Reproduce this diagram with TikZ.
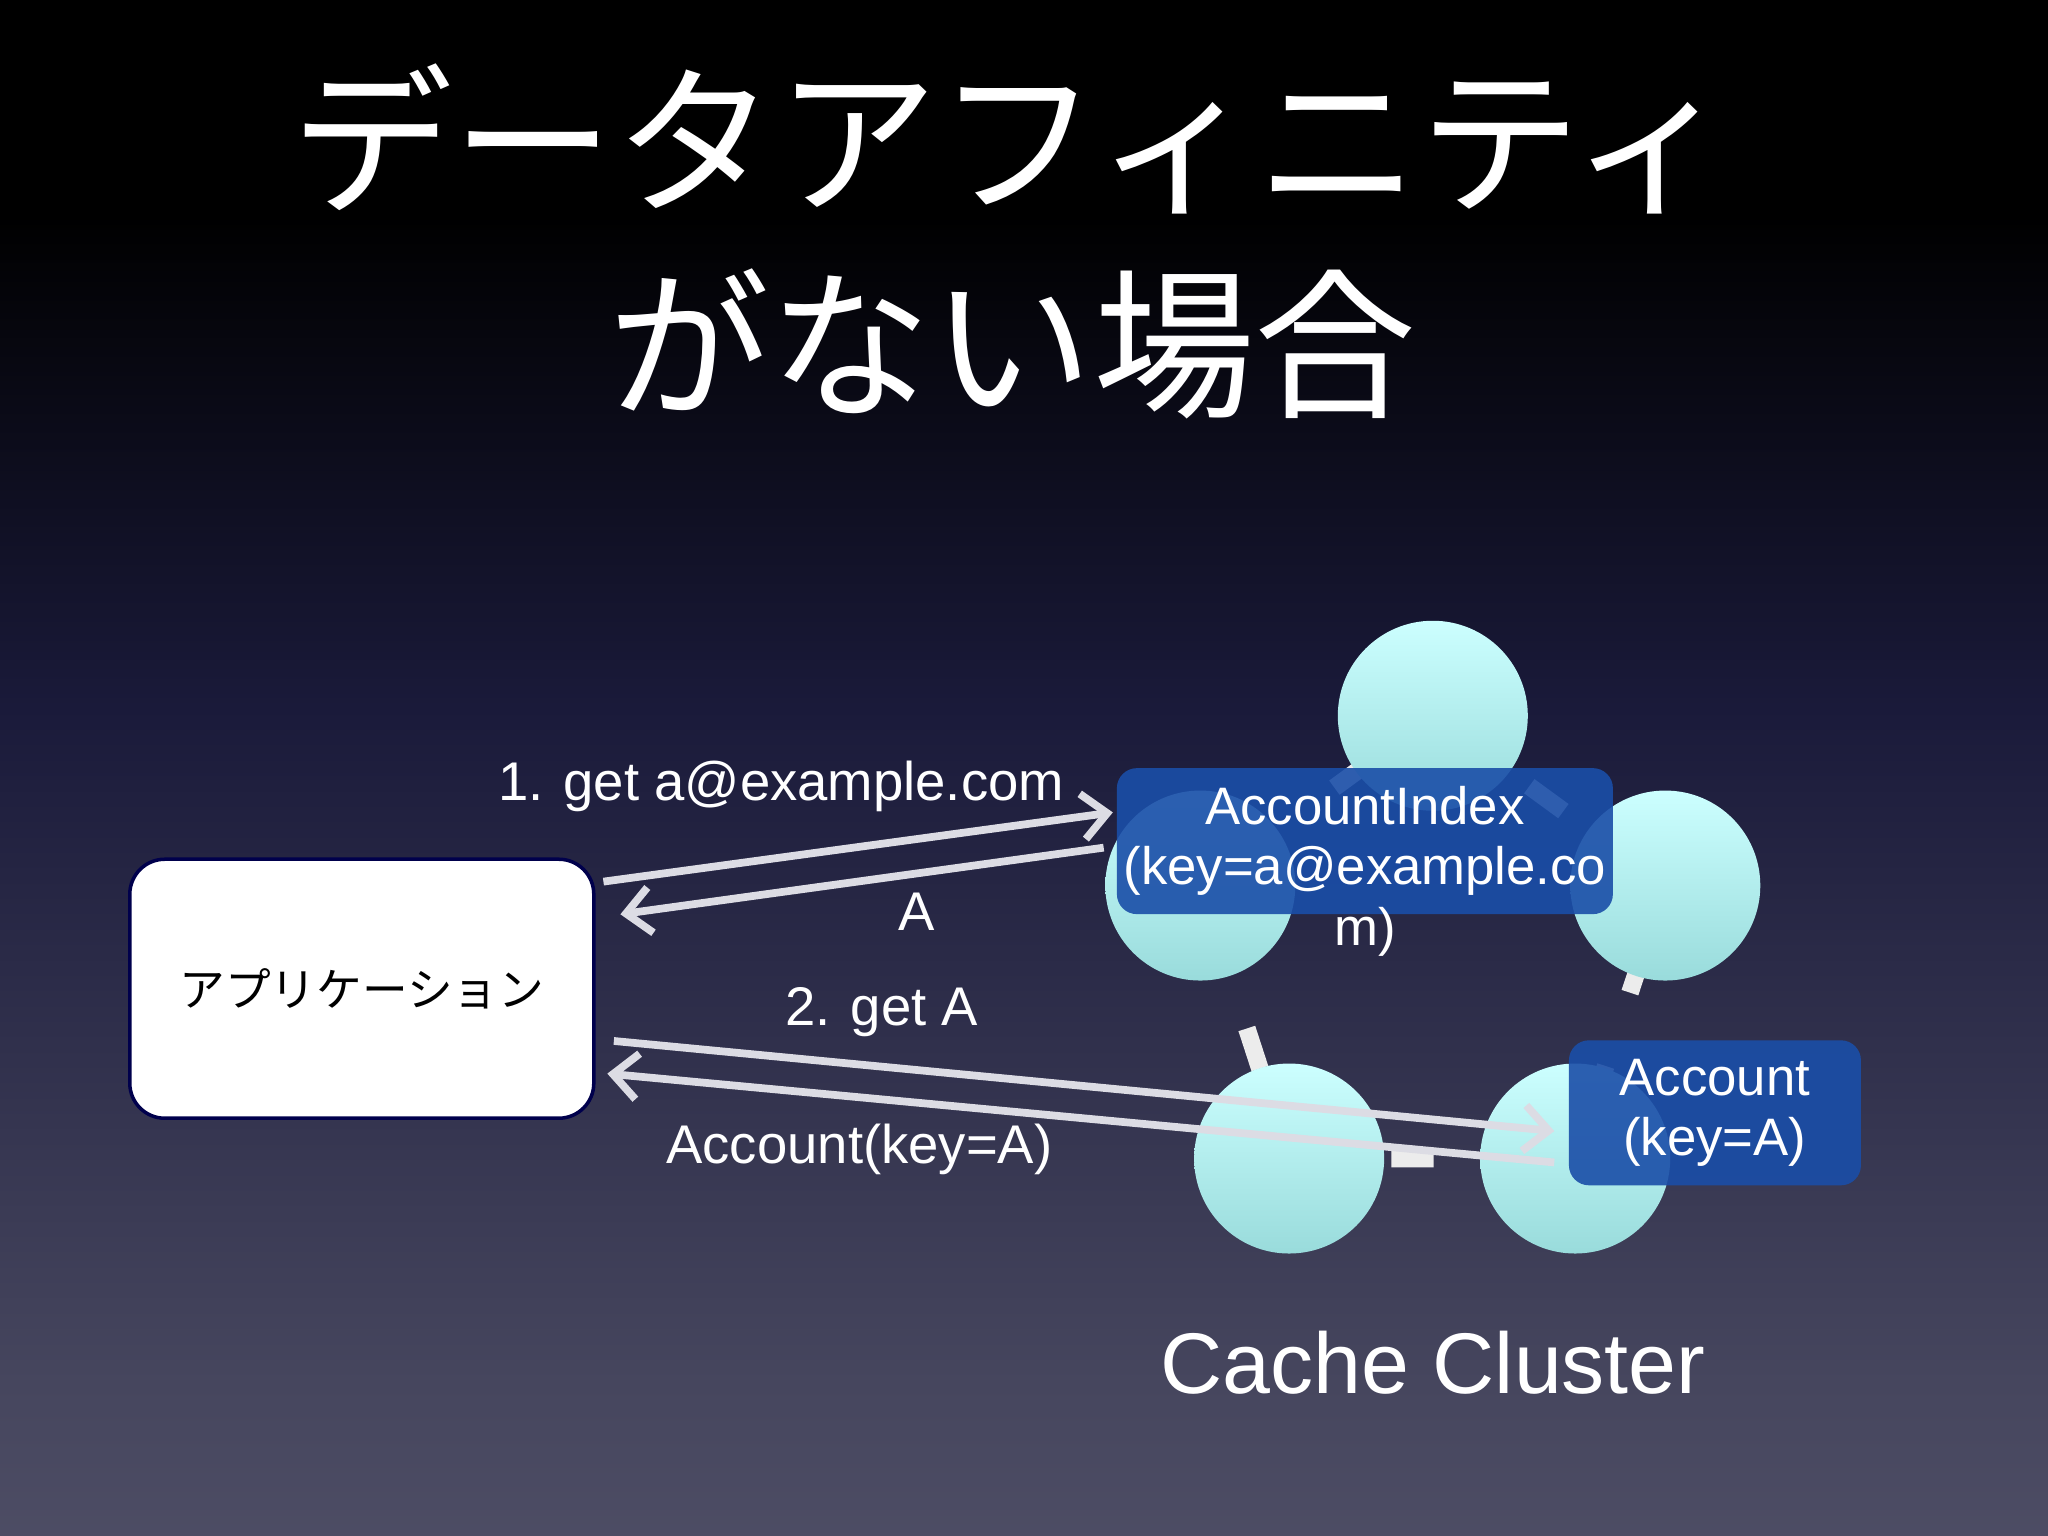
\documentclass[tikz,border=0pt]{standalone}
\usepackage{fontspec}
\setmainfont{Liberation Sans}
\newfontfamily\cjk{Noto Sans CJK JP}
\usetikzlibrary{arrows.meta}
\definecolor{bgbot}{HTML}{6E6C82}
\definecolor{bglow}{HTML}{46465E}
\definecolor{bgmid}{HTML}{1A1A3A}
\definecolor{arr}{HTML}{DCDCE4}
\definecolor{boxb}{HTML}{1A4EA8}
\pgfdeclareverticalshading{bgsh}{100bp}{color(0bp)=(bgbot);color(30bp)=(bglow);color(52bp)=(bgmid);color(68bp)=(black);color(100bp)=(black)}
\begin{document}
\begin{tikzpicture}[x=0.01306cm,y=-0.01306cm,
  cnode/.style={circle,draw=none,inner sep=0,minimum size=1.9cm,top color=cyan!20!white,bottom color=cyan!30!teal!40!white},
  blue box/.style={rounded corners=0.2cm,fill=boxb,fill opacity=0.9,text opacity=1,text=white,align=center,font=\fontsize{15}{17}\selectfont,inner sep=0},
  con/.style={draw=arr,line width=2.2pt,-{Straight Barb[length=7pt,width=13pt,line width=2.2pt]}},
  lab/.style={text=white,font=\fontsize{15.5}{17}\selectfont}]
\shade[shading=bgsh] (0,0) rectangle (1568,1176);
\useasboundingbox (0,0) rectangle (1568,1176);
\node[text=white,font=\cjk\fontsize{46}{58}\selectfont,align=center] (title) at (775,185) {データアフィニティ\\がない場合};
% ring
\coordinate (c1) at (1097,548);
\coordinate (c2) at (1275,678);
\coordinate (c3) at (1206,887);
\coordinate (c4) at (987,887);
\coordinate (c5) at (919,678);
\draw[white!85!gray,line width=5pt,dash pattern=on 12pt off 22pt] (c1)--(c2)--(c3)--(c4)--(c5)--cycle;
\node[cnode] (n1) at (c1) {};
\node[cnode] (n2) at (c2) {};
\node[cnode] (n3) at (c3) {};
\node[cnode] (n4) at (c4) {};
\node[cnode] (n5) at (c5) {};
\node[blue box,minimum width=4.96cm,minimum height=1.46cm] (idx) at (1045,644) {};
\node[text=white,font=\fontsize{15}{17.2}\selectfont,align=center] (idxt) at (1045,667) {AccountIndex\\(key=a@example.co\\m)};
\node[blue box,minimum width=2.92cm,minimum height=1.45cm] (acc) at (1313,852) {Account\\(key=A)};
\node[draw=blue!30!black,line width=1pt,fill=white,rounded corners=0.35cm,minimum width=4.64cm,minimum height=2.59cm,font=\cjk\fontsize{13}{14}\selectfont] (app) at (277,757) {アプリケーション};
\coordinate (a1s) at (462,675); \coordinate (a1e) at (852,622);
\coordinate (a2s) at (845,649); \coordinate (a2e) at (475,700);
\coordinate (a3s) at (470,797); \coordinate (a3e) at (1190,866);
\coordinate (a4s) at (1190,890); \coordinate (a4e) at (465,822);
\draw[con] (a1s) -- (a1e);
\draw[con] (a2s) -- (a2e);
\draw[con] (a3s) -- (a3e);
\draw[con] (a4s) -- (a4e);
\node[lab] (l1) at (598,602) {1. get a@example.com};
\node[lab] (l2) at (702,698) {A};
\node[lab] (l3) at (675,775) {2. get A};
\node[lab] (l4) at (658,880) {Account(key=A)};
\node[text=white,font=\fontsize{24.5}{30}\selectfont] (cc) at (1097,1043) {Cache Cluster};
\end{tikzpicture}
\end{document}
